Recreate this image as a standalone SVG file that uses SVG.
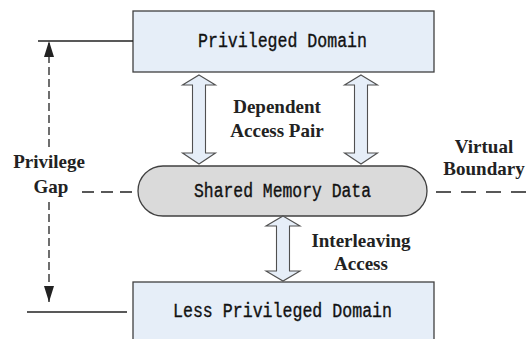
<svg xmlns="http://www.w3.org/2000/svg" width="526" height="339" viewBox="0 0 526 339">
<defs>
<style>
.box{fill:#e6eef8;stroke:#404040;stroke-width:1.3}
.pill{fill:#dadada;stroke:#404040;stroke-width:1.3}
.arr{fill:#e6eef8;stroke:#505050;stroke-width:1.1}
.mono{font-family:"Liberation Mono","DejaVu Sans Mono",monospace;font-size:19.5px;fill:#111;stroke:#111;stroke-width:0.35;text-anchor:middle}
.lbl{font-family:"Liberation Serif","Times New Roman",serif;font-size:19px;font-weight:bold;fill:#222;text-anchor:middle}
.ln{stroke:#222;stroke-width:1.3;fill:none}
.dash{stroke:#222;stroke-width:1.3;fill:none;stroke-dasharray:8 4}
.hdash{stroke:#222;stroke-width:1.5;fill:none;stroke-dasharray:12 7}
</style>
<marker id="tri" viewBox="0 0 16 10" refX="16" refY="5" markerWidth="16" markerHeight="10" markerUnits="userSpaceOnUse" orient="auto">
<path d="M0,0 L16,5 L0,10 Z" fill="#222"/>
</marker>
</defs>
<g id="privileged-domain">
<rect class="box" x="133" y="11" width="301" height="61"/>
<text class="mono" x="282.5" y="47" textLength="169" lengthAdjust="spacingAndGlyphs">Privileged Domain</text>
</g>
<g id="shared-memory-data">
<rect class="pill" x="138" y="166" width="289" height="50" rx="25" ry="25"/>
<text class="mono" x="282.5" y="197" textLength="177" lengthAdjust="spacingAndGlyphs">Shared Memory Data</text>
</g>
<g id="less-privileged-domain">
<rect class="box" x="133" y="282" width="301" height="70"/>
<text class="mono" x="282.5" y="317" textLength="219" lengthAdjust="spacingAndGlyphs">Less Privileged Domain</text>
</g>
<g id="connectors">
<path class="arr" d="M199,75 L215.5,85 L205.5,85 L205.5,153 L215.5,153 L199,164 L182.5,153 L192.5,153 L192.5,85 L182.5,85 Z"/>
<path class="arr" d="M361,75 L377.5,85 L367.5,85 L367.5,153 L377.5,153 L361,164 L344.5,153 L354.5,153 L354.5,85 L344.5,85 Z"/>
<path class="arr" d="M283,216 L300,226 L289.5,226 L289.5,271 L300,271 L283,281 L266,271 L276.5,271 L276.5,226 L266,226 Z"/>
<line class="ln" x1="38" y1="41" x2="133" y2="41"/>
<line class="ln" x1="27" y1="312" x2="127" y2="312"/>
<line class="dash" x1="49" y1="147" x2="49" y2="41" marker-end="url(#tri)"/>
<line class="dash" x1="49" y1="202" x2="49" y2="302" marker-end="url(#tri)"/>
<line class="hdash" x1="82" y1="192" x2="138" y2="192"/>
<line class="hdash" x1="436" y1="192" x2="526" y2="192" style="stroke-dasharray:15 10"/>
</g>
<g id="labels">
<text class="lbl" x="277" y="113">Dependent</text>
<text class="lbl" x="277" y="137">Access Pair</text>
<text class="lbl" x="49" y="168">Privilege</text>
<text class="lbl" x="51" y="193">Gap</text>
<text class="lbl" x="484" y="153">Virtual</text>
<text class="lbl" x="484" y="175">Boundary</text>
<text class="lbl" x="361" y="247">Interleaving</text>
<text class="lbl" x="361" y="270">Access</text>
</g>
</svg>
